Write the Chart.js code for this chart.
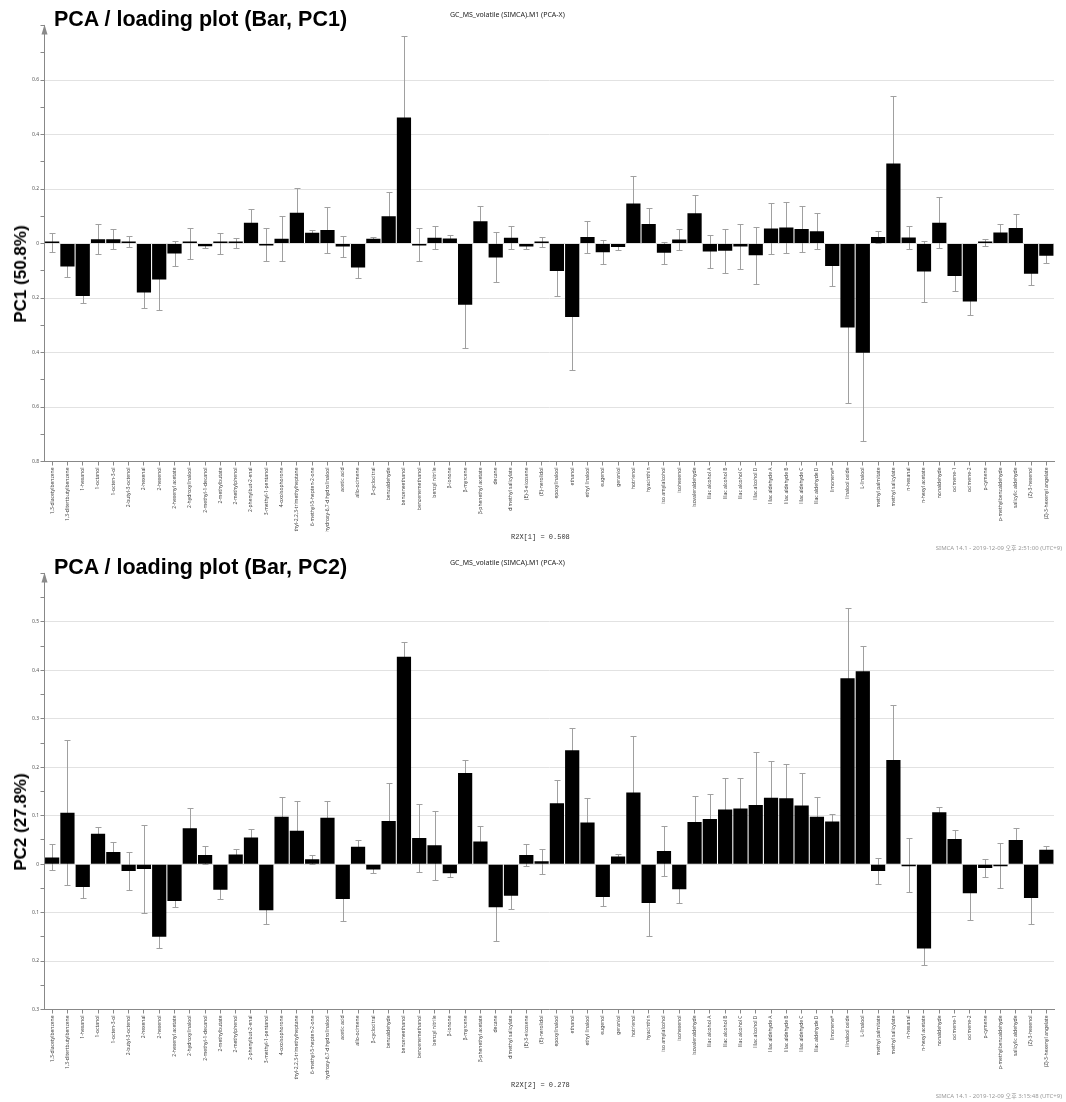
<!DOCTYPE html>
<html>
<head>
<meta charset="utf-8">
<script src="https://cdn.jsdelivr.net/npm/chart.js@4.4.0/dist/chart.umd.min.js"></script>
<style>
body { margin: 0; background: #fff; width: 1066px; height: 1102px; position: relative; overflow: hidden; }
.panel { position: absolute; left: 0; width: 1066px; height: 548px; }
.panel canvas { position: absolute; left: 0; top: 0; }
.title { position: absolute; left: 54px; top: 8.5px; font: bold 21.5px "Liberation Sans", Arial, sans-serif; line-height: 1; white-space: nowrap; }
.model { position: absolute; left: 450px; top: 10.8px; font: 7px "Noto Sans", sans-serif; line-height: 1; color: #222; white-space: nowrap; }
.ytitle { position: absolute; left: 21px; top: 274px; transform: translate(-50%, -50%) rotate(-90deg); font: bold 17px "Liberation Sans", Arial, sans-serif; white-space: nowrap; }
.r2x { position: absolute; left: 511px; top: 533.5px; font: 7px "Liberation Mono", monospace; line-height: 1; color: #333; white-space: nowrap; }
.stamp { position: absolute; right: 4px; top: 545px; font: 6px "Noto Sans", "Noto Sans CJK KR", sans-serif; line-height: 1; color: #999; white-space: nowrap; }
</style>
</head>
<body>

<div class="panel" style="top:0px">
    <canvas id="pc1Chart" width="1066" height="540" style="width:1066px;height:540px"></canvas>
    <div class="title">PCA / loading plot (Bar, PC1)</div>
    <div class="model">GC_MS_volatile (SIMCA).M1 (PCA-X)</div>
    <div class="ytitle">PC1 (50.8%)</div>
    <div class="r2x">R2X[1] = 0.508</div>
    <div class="stamp">SIMCA 14.1 - 2019-12-09 오후 2:51:00 (UTC+9)</div>
</div>

<div class="panel" style="top:548px">
    <canvas id="pc2Chart" width="1066" height="540" style="width:1066px;height:540px"></canvas>
    <div class="title">PCA / loading plot (Bar, PC2)</div>
    <div class="model">GC_MS_volatile (SIMCA).M1 (PCA-X)</div>
    <div class="ytitle">PC2 (27.8%)</div>
    <div class="r2x">R2X[2] = 0.278</div>
    <div class="stamp">SIMCA 14.1 - 2019-12-09 오후 3:15:48 (UTC+9)</div>
</div>

<script>
const compounds = [
    '1,3-diacetylbenzene', '1,3-ditertbutylbenzene', '1-hexanol', '1-octanol', '1-octen-3-ol',
    '2-butyl-3-octenol', '2-hexenal', '2-hexenol', '2-hexenyl acetate', '2-hydroxylinalool',
    '2-methyl-1-decanol', '2-methylbutate', '2-methylphenol', '2-phenylbut-2-enal', '3-methyl-1-pentanol',
    '4-oxoisophorone', '5-ethyl-2,2,3-trimethylheptane', '6-methyl-5-hepten-2-one', '8-hydroxy-6,7-dihydrolinalool', 'acetic acid',
    'allo-ocimene', 'β-cyclocitral', 'benzaldehyde', 'benzeneethanol', 'benzenemethanol',
    'benzyl nitrile', 'β-ionone', 'β-myrcene', 'β-phenethyl acetate', 'decane',
    'dimethyl salicylate', '(E)-3-eicosene', '(E)-nerolidol', 'epoxylinalool', 'ethanol',
    'ethyl linalool', 'eugenol', 'geraniol', 'hotrienol', 'hyacinthin',
    'iso amylalcohol', 'isohexenol', 'isovaleraldehyde', 'lilac alcohol A', 'lilac alcohol B',
    'lilac alcohol C', 'lilac alcohol D', 'lilac aldehyde A', 'lilac aldehyde B', 'lilac aldehyde C',
    'lilac aldehyde D', 'limonene*', 'linalool oxide', 'L-linalool', 'methyl palmitate',
    'methyl salicylate', 'n-hexanal', 'n-hexyl acetate', 'nonaldehyde', 'ocimene-1',
    'ocimene-2', 'p-cymene', 'p-methylbenzaldehyde', 'salicylic aldehyde', '(Z)-3-hexenol',
    '(Z)-3-hexenyl angelate'
];

const pc1 = [
    0.002, -0.084, -0.193, 0.016, 0.016, 0.007, -0.18, -0.132, -0.037, 0.001,
    -0.01, 0.001, 0.002, 0.076, -0.003, 0.017, 0.113, 0.039, 0.05, -0.011,
    -0.088, 0.017, 0.1, 0.462, -0.004, 0.021, 0.018, -0.225, 0.082, -0.051,
    0.021, -0.011, 0.005, -0.101, -0.27, 0.024, -0.032, -0.013, 0.147, 0.072,
    -0.034, 0.015, 0.111, -0.029, -0.027, -0.011, -0.043, 0.055, 0.059, 0.053,
    0.045, -0.083, -0.308, -0.401, 0.024, 0.294, 0.022, -0.103, 0.076, -0.119,
    -0.213, 0.003, 0.04, 0.057, -0.111, -0.045
];
const pc1Err = [
    0.035, 0.038, 0.025, 0.054, 0.036, 0.019, 0.056, 0.111, 0.047, 0.057,
    0.006, 0.038, 0.019, 0.051, 0.06, 0.083, 0.089, 0.011, 0.085, 0.039,
    0.039, 0.006, 0.09, 0.30, 0.06, 0.042, 0.013, 0.159, 0.057, 0.092,
    0.042, 0.008, 0.018, 0.09, 0.193, 0.06, 0.044, 0.012, 0.1, 0.058,
    0.041, 0.039, 0.067, 0.061, 0.082, 0.081, 0.104, 0.094, 0.094, 0.083,
    0.067, 0.074, 0.277, 0.324, 0.023, 0.248, 0.044, 0.112, 0.093, 0.055,
    0.048, 0.012, 0.033, 0.051, 0.041, 0.028
];

const pc2 = [
    0.014, 0.106, -0.047, 0.063, 0.025, -0.014, -0.01, -0.15, -0.076, 0.074,
    0.019, -0.053, 0.02, 0.055, -0.095, 0.098, 0.069, 0.01, 0.096, -0.072,
    0.036, -0.011, 0.089, 0.428, 0.054, 0.039, -0.019, 0.188, 0.047, -0.089,
    -0.065, 0.019, 0.006, 0.126, 0.235, 0.086, -0.068, 0.016, 0.148, -0.08,
    0.027, -0.052, 0.087, 0.093, 0.113, 0.115, 0.122, 0.137, 0.136, 0.121,
    0.098, 0.088, 0.384, 0.398, -0.014, 0.215, -0.002, -0.174, 0.107, 0.052,
    -0.06, -0.008, -0.003, 0.05, -0.07, 0.03
];
const pc2Err = [
    0.027, 0.15, 0.022, 0.013, 0.021, 0.039, 0.09, 0.023, 0.013, 0.041,
    0.019, 0.019, 0.012, 0.018, 0.029, 0.04, 0.062, 0.009, 0.035, 0.045,
    0.013, 0.008, 0.079, 0.03, 0.07, 0.071, 0.007, 0.027, 0.032, 0.069,
    0.027, 0.023, 0.026, 0.047, 0.047, 0.05, 0.018, 0.004, 0.117, 0.068,
    0.052, 0.028, 0.053, 0.052, 0.065, 0.062, 0.11, 0.075, 0.07, 0.068,
    0.04, 0.016, 0.144, 0.052, 0.026, 0.113, 0.056, 0.035, 0.012, 0.018,
    0.056, 0.018, 0.047, 0.025, 0.054, 0.008
];

// error bars behind the bars + arrow head on top of the y axis
const errorBars = {
    id: 'errorBars',
    beforeDatasetsDraw(chart, args, opts) {
        const ctx = chart.ctx;
        const xs = chart.scales.x;
        const ys = chart.scales.y;
        const values = chart.data.datasets[0].data;
        ctx.save();
        ctx.strokeStyle = '#a0a0a0';
        ctx.lineWidth = 1;
        values.forEach((v, i) => {
            const e = opts.err[i];
            const px = Math.round(xs.getPixelForValue(i)) + 0.5;
            const top = Math.round(ys.getPixelForValue(v + e)) + 0.5;
            const bot = Math.round(ys.getPixelForValue(v - e)) + 0.5;
            ctx.beginPath();
            ctx.moveTo(px, top);
            ctx.lineTo(px, bot);
            ctx.moveTo(px - 3, top);
            ctx.lineTo(px + 3, top);
            ctx.moveTo(px - 3, bot);
            ctx.lineTo(px + 3, bot);
            ctx.stroke();
        });
        ctx.restore();
    },
    afterDraw(chart) {
        const ctx = chart.ctx;
        const a = chart.chartArea;
        ctx.save();
        ctx.fillStyle = '#8a8a8a';
        ctx.beginPath();
        ctx.moveTo(a.left, a.top - 1);
        ctx.lineTo(a.left - 3, a.top + 9);
        ctx.lineTo(a.left + 3, a.top + 9);
        ctx.closePath();
        ctx.fill();
        ctx.restore();
    }
};

function setLoadingBar(idchart, labels_chart, data_chart, err_chart, ymin, ymax, step) {

    const data = {
        labels: labels_chart,
        datasets: [{
            data: data_chart,
            backgroundColor: '#000',
            borderWidth: 0,
            barPercentage: 0.93,
            categoryPercentage: 1,
            minBarLength: 2,
        }]
    };

    // label every second tick, no label or grid line at the top
    const isMajor = (v) => Math.round(v / step) % 2 === 0 && v < ymax - step / 2;

    const config = {
        type: 'bar',
        data: data,
        plugins: [errorBars],
        options: {
            responsive: false,
            animation: false,
            layout: {
                padding: { left: 0, top: 25.5, right: 12, bottom: 8.5 }
            },
            plugins: {
                legend: { display: false },
                tooltip: { enabled: false },
                errorBars: { err: err_chart }
            },
            scales: {
                x: {
                    afterFit: (scale) => { scale.height = 70; },
                    grid: {
                        offset: false,
                        drawOnChartArea: false,
                        tickLength: 4,
                        tickColor: '#888',
                    },
                    border: { color: '#888' },
                    ticks: {
                        autoSkip: false,
                        minRotation: 90,
                        maxRotation: 90,
                        padding: 2,
                        color: '#444',
                        font: { family: 'Noto Sans', size: 5 }
                    }
                },
                y: {
                    min: ymin,
                    max: ymax,
                    afterFit: (scale) => { scale.width = 44.5; },
                    grid: {
                        color: (c) => isMajor(c.tick.value) ? '#e2e2e2' : 'rgba(0,0,0,0)',
                        tickColor: '#888',
                        tickLength: 4,
                    },
                    border: { color: '#888' },
                    ticks: {
                        stepSize: step,
                        padding: 1.5,
                        color: '#555',
                        font: { family: 'Noto Sans', size: 5 },
                        callback: (v) => {
                            if (!isMajor(v)) return '';
                            const r = Math.round(v * 10) / 10;
                            return r === 0 ? '0' : Math.abs(r).toFixed(1);
                        }
                    }
                }
            }
        },
    };

    new Chart(
        document.getElementById(idchart),
        config
    );

}

setLoadingBar('pc1Chart', compounds, pc1, pc1Err, -0.8, 0.8, 0.1);
setLoadingBar('pc2Chart', compounds, pc2, pc2Err, -0.3, 0.6, 0.05);
</script>
</body>
</html>
